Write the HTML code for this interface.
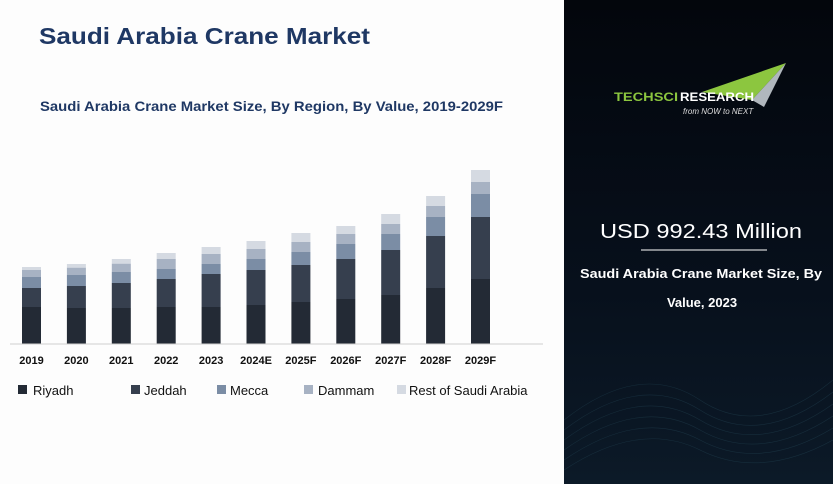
<!DOCTYPE html>
<html><head><meta charset="utf-8"><style>
body{margin:0;width:833px;height:484px;overflow:hidden;background:#fdfdfd;font-family:"Liberation Sans",sans-serif}
</style></head><body>
<svg width="833" height="484" xmlns="http://www.w3.org/2000/svg" style="position:absolute;left:0;top:0">
<defs>
<linearGradient id="bg" x1="0" y1="0" x2="0" y2="1">
<stop offset="0" stop-color="#03060c"/><stop offset="0.6" stop-color="#07101c"/><stop offset="1" stop-color="#0c1a28"/>
</linearGradient>
</defs>
<rect x="0" y="0" width="564" height="484" fill="#fdfdfd"/>
<text x="39" y="44" font-size="23" font-weight="bold" fill="#1f3864" textLength="331" lengthAdjust="spacingAndGlyphs">Saudi Arabia Crane Market</text>
<text x="40" y="111" font-size="14" font-weight="bold" fill="#1f3864" textLength="463" lengthAdjust="spacingAndGlyphs">Saudi Arabia Crane Market Size, By Region, By Value, 2019-2029F</text>
<g id="bars"></g>
<line x1="10" y1="344" x2="543" y2="344" stroke="#d0d0d0" stroke-width="1"/>
<g font-size="11" font-weight="bold" fill="#111" text-anchor="middle" id="labels"></g>
<g font-size="13" fill="#111">
<rect x="18" y="385" width="9" height="9" fill="#232a35"/><text x="33" y="395">Riyadh</text>
<rect x="131" y="385" width="9" height="9" fill="#363f4e"/><text x="144" y="395">Jeddah</text>
<rect x="217" y="385" width="9" height="9" fill="#7b8da5"/><text x="230" y="395">Mecca</text>
<rect x="304" y="385" width="9" height="9" fill="#a7b2c3"/><text x="318" y="395">Dammam</text>
<rect x="397" y="385" width="9" height="9" fill="#d5dae2"/><text x="409" y="395">Rest of Saudi Arabia</text>
</g>
<rect x="564" y="0" width="269" height="484" fill="url(#bg)"/>
<g opacity="0.25" stroke="#3a6f80" fill="none" stroke-width="0.6">
<path d="M564 420 Q640 360 700 400 T833 380"/><path d="M564 430 Q640 372 700 410 T833 392"/>
<path d="M564 440 Q640 384 700 420 T833 404"/><path d="M564 450 Q640 396 700 430 T833 416"/>
<path d="M564 460 Q640 408 700 440 T833 428"/><path d="M564 470 Q640 420 700 450 T833 440"/>
</g>
<polygon points="702,92 786,63 752,100" fill="#8cc63f"/>
<polygon points="752,100 786,63 764,107" fill="#b0b7bd"/>
<text x="614" y="101" font-size="12" font-weight="bold" fill="#8cc63f" textLength="64" lengthAdjust="spacingAndGlyphs">TECHSCI</text>
<text x="680" y="101" font-size="12" font-weight="bold" fill="#fff" textLength="74" lengthAdjust="spacingAndGlyphs">RESEARCH</text>
<text x="683" y="114" font-size="8" font-style="italic" fill="#ddd">from NOW to NEXT</text>
<text x="701" y="238" font-size="20" fill="#fff" text-anchor="middle" textLength="202" lengthAdjust="spacingAndGlyphs">USD 992.43 Million</text>
<line x1="641" y1="250" x2="767" y2="250" stroke="#fff" stroke-width="1"/>
<text x="701" y="278" font-size="13" font-weight="bold" fill="#fff" text-anchor="middle" textLength="242" lengthAdjust="spacingAndGlyphs">Saudi Arabia Crane Market Size, By</text>
<text x="702" y="307" font-size="13" font-weight="bold" fill="#fff" text-anchor="middle">Value, 2023</text>
</svg>
<script>
var d=[[267,270,277,288,307],[264,267.7,275,286,308],[259,263.7,272,283,308],[253,259,269,279,307],[247,254,264,274,307],[241,249,259,270,305],[233,242,252,265,302],[226,234,244,259,299],[214,224,234,250,295],[196,206,217,236,288],[170,182,194,217,279]];
var cols=["#d5dae2","#a7b2c3","#7b8da5","#363f4e","#232a35"];
var yrs=["2019","2020","2021","2022","2023","2024E","2025F","2026F","2027F","2028F","2029F"];
var ns="http://www.w3.org/2000/svg",g=document.getElementById("bars"),L=document.getElementById("labels");
d.forEach(function(t,i){var x=22+i*44.9;for(var k=0;k<5;k++){var top=t[k],bot=k<4?t[k+1]:344;var r=document.createElementNS(ns,"rect");r.setAttribute("x",x);r.setAttribute("y",top);r.setAttribute("width",19);r.setAttribute("height",bot-top);r.setAttribute("fill",cols[k]);g.appendChild(r);}
var tx=document.createElementNS(ns,"text");tx.setAttribute("x",x+9.5);tx.setAttribute("y",364);tx.textContent=yrs[i];L.appendChild(tx);});
</script>
</body></html>
